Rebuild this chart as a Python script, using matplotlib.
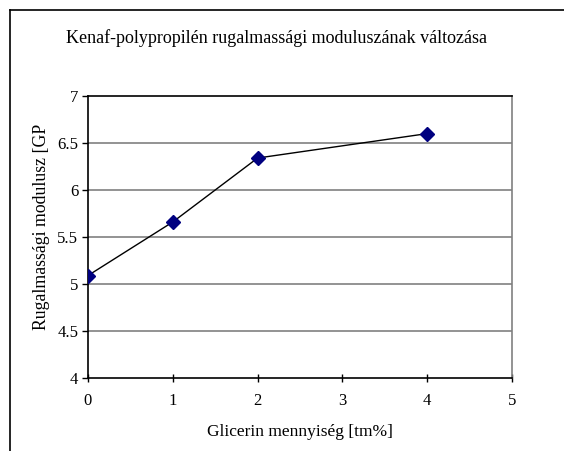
import matplotlib
matplotlib.use('Agg')
import matplotlib.pyplot as plt
from matplotlib.lines import Line2D

# glicerin content [tm%] and modulus [GPa]
glicerin = [0, 1, 2, 4]
modulus = [5.09, 5.66, 6.34, 6.60]

x_ticks = [0, 1, 2, 3, 4, 5]
y_ticks = [4, 4.5, 5, 5.5, 6, 6.5, 7]

plt.rcParams['font.family'] = ['Liberation Serif', 'DejaVu Serif']

fig = plt.figure(figsize=(5.64, 4.51), dpi=100)
ax = fig.add_axes([88 / 564, 1 - 378 / 451, 424 / 564, 282 / 451])

# outer chart frame (only left and top edges visible in the crop)
fig.add_artist(Line2D([10 / 564, 10 / 564], [0, 1 - 10 / 451], color='black', lw=1.2, transform=fig.transFigure))
fig.add_artist(Line2D([10 / 564, 1], [1 - 10 / 451, 1 - 10 / 451], color='black', lw=1.2, transform=fig.transFigure))

for y in y_ticks[1:-1]:
    ax.axhline(y, color='#808080', lw=1.2, zorder=1)

ax.plot(glicerin, modulus, color='black', lw=1, zorder=3)
ax.plot(glicerin, modulus, linestyle='none', marker='D', markersize=7,
        markerfacecolor='#000080', markeredgecolor='#000080', zorder=4)

ax.set_xlim(0, 5)
ax.set_ylim(4, 7)
ax.set_xticks(x_ticks)
ax.set_yticks(y_ticks)
ax.set_xticklabels([str(v) for v in x_ticks])
ax.set_yticklabels(['4', '4.5', '5', '5.5', '6', '6.5', '7'])
ax.tick_params(axis='x', direction='inout', length=6, width=1, labelsize=12, pad=8)
ax.tick_params(axis='y', direction='out', length=4, width=1, labelsize=12, pad=3)

ax.spines['left'].set_color('black')
ax.spines['bottom'].set_color('black')
ax.spines['top'].set_color('black')
ax.spines['right'].set_color('#808080')
for s in ax.spines.values():
    s.set_linewidth(1.2)

ax.set_xlabel('Glicerin mennyiség [tm%]', fontsize=12.5)
ax.set_ylabel('Rugalmassági modulusz [GP', fontsize=12.8)
ax.xaxis.set_label_coords(0.5, -(432 - 378) / 282, transform=ax.transAxes)
ax.yaxis.set_label_coords(-(88 - 42) / 424, (378 - 227) / 282, transform=ax.transAxes)
ax.xaxis.label.set_va('center')
ax.yaxis.label.set_va('center')
fig.text(276 / 564, 1 - 38 / 451, 'Kenaf-polypropilén rugalmassági moduluszának változása',
         ha='center', va='center', fontsize=13)

fig.savefig('out.png', dpi=100)
